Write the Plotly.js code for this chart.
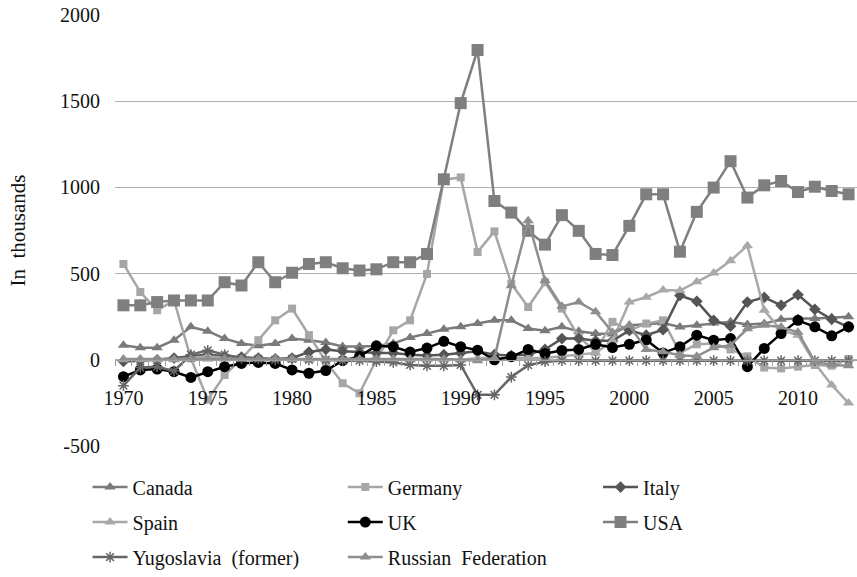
<!DOCTYPE html>
<html>
<head>
<meta charset="utf-8">
<script src="https://cdn.plot.ly/plotly-3.0.1.min.js"></script>
<style>html,body{margin:0;padding:0;background:#fff;}#chart{width:857px;height:577px;}</style>
</head>
<body>
<div id="chart"></div>
<script>
const years = [];
for (let y = 1970; y <= 2013; y++) years.push(y);

const tickYears = [1970, 1975, 1980, 1985, 1990, 1995, 2000, 2005, 2010];
const yTicks = [-500, 0, 500, 1000, 1500, 2000];

const canada = [85,70,70,114,191,166,123,95,81,95, 123,114,100,77,77,80,95,129,152,177, 192,210,229,229,181,169,191,165,152,150, 200,206,213,190,200,213,220,205,210,235, 240,240,245,250];
const germany = [556,393,287,344,8,-232,-88,5,114,229, 297,143,-10,-136,-194,0,171,229,498,1045, 1058,625,745,441,306,450,297,133,48,220, 171,210,229,40,90,95,60,20,-45,-50, -40,-30,-34,5];
const italy = [-10,-5,0,10,20,30,20,15,10,5, 10,45,60,50,45,40,40,30,25,30, 40,50,30,25,30,60,123,123,110,110, 171,143,175,373,339,229,195,335,362,316, 377,293,235,190];
const spain = [0,0,0,0,10,20,10,0,0,0, 0,0,0,0,0,0,0,0,0,0, 0,10,10,10,10,10,20,30,40,110, 335,363,405,402,453,503,575,662,287,171, 143,-20,-146,-251];
const uk = [-98,-59,-54,-69,-102,-69,-40,-21,-15,-21, -59,-78,-62,-5,20,81,76,45,68,107, 76,56,0,18,60,37,54,60,90,71, 90,115,40,76,143,114,123,-40,66,152, 229,191,139,191];
const usa = [316,316,335,344,344,344,450,431,566,450, 505,556,566,531,518,525,566,566,614,1047, 1489,1797,921,854,748,668,839,748,614,608, 777,960,960,627,858,999,1152,941,1012,1037, 973,1004,979,960];
const yugoslavia = [-150,-45,-40,-65,30,55,30,10,5,0, 5,0,0,-5,-5,-10,-15,-30,-35,-35, -30,-203,-203,-100,-31,-11,-5,-5,-5,-5, -5,-5,-5,-5,-5,-5,-5,-5,-5,-5, -5,-5,-5,-5];
const russia = [5,5,5,5,5,5,5,5,5,5, 5,5,5,5,5,5,5,5,5,5, 0,-5,10,430,806,460,310,335,279,160, 200,60,47,27,20,70,85,180,200,190, 160,-10,-30,-35];

const FONT = '"Liberation Serif", "Times New Roman", serif';

function tr(name, data, color, symbol, size, legend, extra) {
  const t = {
    type: 'scatter', mode: 'lines+markers', name: name,
    x: years, y: data,
    line: {color: color, width: 2.5},
    marker: {color: color, symbol: symbol, size: size, line: {width: 0}},
    legend: legend, legendgroup: name
  };
  return Object.assign(t, extra || {});
}

const traces = [
  tr('Canada', canada, '#7a7a7a', 'triangle-up', 10, 'legend'),
  tr('Germany', germany, '#a6a6a6', 'square', 8, 'legend2'),
  tr('Italy', italy, '#555555', 'diamond', 9, 'legend3'),
  tr('Spain', spain, '#a9a9a9', 'triangle-up', 10, 'legend'),
  tr('UK', uk, '#000000', 'circle', 11, 'legend2'),
  tr('USA', usa, '#7f7f7f', 'square', 12, 'legend3'),
  tr('Yugoslavia\u00A0 (former)', yugoslavia, '#666666', 'asterisk-open', 9, 'legend',
     {marker: {color: '#666666', symbol: 'asterisk-open', size: 9, line: {width: 1.5, color: '#666666'}}}),
  tr('Russian\u00A0 Federation', russia, '#8e8e8e', 'triangle-up', 10, 'legend2')
];

function leg(xp) {
  return {
    orientation: 'v', x: xp, xanchor: 'left', y: -0.05, yanchor: 'top',
    itemwidth: 35, tracegroupgap: 6,
    font: {family: FONT, size: 20, color: '#111'}, bgcolor: 'rgba(0,0,0,0)', traceorder: 'grouped'
  };
}

const layout = {
  width: 857, height: 577,
  margin: {l: 115, r: 0, t: 15, b: 129, pad: 0},
  paper_bgcolor: '#ffffff', plot_bgcolor: '#ffffff',
  font: {family: FONT, size: 18, color: '#111'},
  showlegend: true,
  xaxis: {
    range: [1969.5, 2013.5], tickvals: tickYears, ticktext: tickYears.map(String),
    anchor: 'free', position: 0.2,
    showline: true, linecolor: '#a0a0a0', linewidth: 1.5,
    showgrid: false, zeroline: false,
    ticks: 'outside', ticklen: 20, tickcolor: 'rgba(0,0,0,0)', tickwidth: 1,
    tickfont: {family: FONT, size: 20, color: '#111'},
    minor: {tick0: 1969.5, dtick: 1, ticks: 'outside', ticklen: 5, tickcolor: '#a0a0a0', tickwidth: 1, showgrid: false}
  },
  yaxis: {
    range: [-500, 2000], tickvals: yTicks, ticktext: yTicks.map(String),
    showgrid: true, gridcolor: '#b0b0b0', gridwidth: 1.2, zeroline: false,
    showline: false, ticks: '', ticklabelstandoff: 14,
    tickfont: {family: FONT, size: 20, color: '#111'},
    title: {text: 'In\u00A0 thousands', font: {family: FONT, size: 21, color: '#111'}, standoff: 28}
  },
  legend: leg(-0.037),
  legend2: leg(0.307),
  legend3: leg(0.651)
};

Plotly.newPlot('chart', traces, layout, {displayModeBar: false, staticPlot: true});
</script>
</body>
</html>
